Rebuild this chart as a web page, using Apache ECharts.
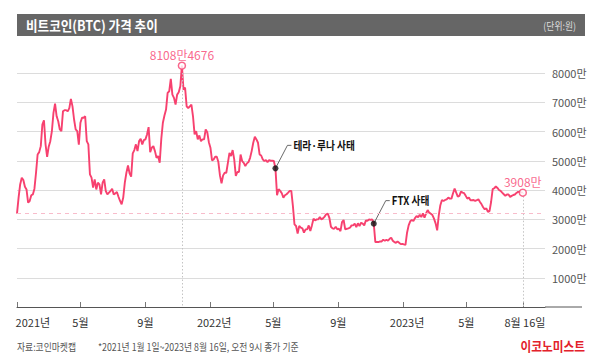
<!DOCTYPE html>
<html><head><meta charset="utf-8">
<script src="https://cdn.jsdelivr.net/npm/echarts@6/dist/echarts.min.js"></script>
<style>html,body{margin:0;padding:0;background:#fff}#c{width:600px;height:357px}</style>
</head><body><div id="c"></div>
<script>
// ---- data (prices in 만원, one reading every 3 days from 2021-01-01) ----
const startDate = '2021-01-01';
const stepDays = 3;
const prices = [
3190,3740,4190,4420,4340,4110,4020,3570,3625,3820,3850,4045,4590,5215,5295,5500,6240,6385,5560,5135,
5480,5670,6010,6635,6950,6520,6350,6070,6010,6690,6730,6730,6690,6800,7110,6860,6410,6070,6010,5550,
6300,6470,6470,6520,5670,5560,4535,4420,4080,4365,4020,4250,4190,3850,4250,4360,3965,3850,3910,3965,
4045,3850,3885,3930,3770,3625,3510,3740,4250,4590,4840,4570,4455,5250,5365,5560,5330,5670,5750,5560,
5705,5730,5900,6150,5295,5445,5500,5330,5100,5160,4930,5750,6300,6545,6750,7320,7375,7800,7260,7150,
6920,7260,7340,7545,8250,7430,7500,6860,6800,6860,6920,6520,5900,6010,5730,5865,5670,5730,5730,6070,
5975,5635,5445,5010,5045,5135,5135,4955,4500,4225,4500,4590,4590,4930,5270,5160,5365,5045,4480,4615,
4615,5215,4990,4930,4820,4910,4955,5100,5330,5615,5820,5730,5615,5215,5180,5045,4990,5020,4955,5020,
5000,5000,4990,4740,3820,4030,3970,3890,3740,3820,3855,3910,3970,3970,3455,2825,2770,2515,2770,2710,
2690,2540,2655,2655,2790,2595,2790,3020,2960,2995,2995,3075,2995,3030,3090,3170,3190,3050,2745,2690,
2675,2745,2655,2675,2595,2905,2975,2655,2675,2690,2710,2790,2790,2850,2730,2860,2770,2880,2850,2790,
2960,2950,2995,2975,3000,2850,2220,2220,2220,2240,2240,2300,2265,2300,2265,2330,2370,2265,2220,2195,
2240,2195,2150,2160,2140,2125,2540,2790,2930,2975,2940,3040,3110,3065,3155,3075,3200,3050,3200,3315,
3225,3190,3145,3020,2860,2620,3130,3480,3660,3625,3660,3680,3740,3705,3705,3890,4050,3910,3775,3800,
3945,3910,3890,3800,3705,3740,3650,3650,3660,3625,3650,3680,3590,3510,3410,3340,3375,3250,3280,3590,
4030,4060,4120,4070,4000,3970,3910,3855,3800,3845,3845,3765,3800,3830,3845,3900,3935,3935,3920,3908
];
const tickDates = ['2021-01-01','2021-05-01','2021-09-01','2022-01-01','2022-05-01','2022-09-01','2023-01-01','2023-05-01','2023-08-16'];
const tickLabels = ['2021년','5월','9월','2022년','5월','9월','2023년','5월','8월 16일'];
const yTicks = [1000,2000,3000,4000,5000,6000,7000,8000];
const peakIndex = 104, peakLabel = '8108만4676';
const lastIndex = 319, lastLabel = '3908만';
const eventIndices = [163, 225];
const eventLabels = ['테라·루나 사태', 'FTX 사태'];
const titleText = '비트코인(BTC) 가격 추이';
const unitText = '(단위:원)';
const sourceText = '자료:코인마켓캡';
const noteText = '*2021년 1월 1일~2023년 8월 16일, 오전 9시 종가 기준';
const brandText = '이코노미스트';

// ---- build (x = days since startDate) ----
const DAY = 86400000;
const parseD = s => { const p = s.split('-').map(Number); return Date.UTC(p[0], p[1]-1, p[2]); };
const t0 = parseD(startDate);
const dAt = i => i * stepDays;
const lineData = prices.map((v, i) => [dAt(i), v]);
const tickDays = tickDates.map(s => Math.round((parseD(s) - t0) / DAY));
const labelShift = tickLabels.map((s, k) => k === 0 ? 30 : (s.indexOf('년') > 0 ? 8 : (k === tickLabels.length - 1 ? 4 : 0)));
const labelDays = tickDays.map((d, k) => d + labelShift[k]);
const Y_MAX = 8000;

const PINK = '#f7416f';
const FONT = "'Liberation Sans Narrow','Noto Sans CJK KR',sans-serif";
const KFONT = "'Noto Sans CJK KR',sans-serif";

const chart = echarts.init(document.getElementById('c'), null, {renderer: 'svg'});
const peakPt = [dAt(peakIndex), prices[peakIndex]];
const lastPt = [dAt(lastIndex), prices[lastIndex]];

chart.setOption({
  animation: false,
  textStyle: {fontFamily: FONT},
  grid: {left: 17, right: 55, top: 73, bottom: 50},
  xAxis: {
    type: 'value', min: 0, max: 999,
    axisLine: {show: true, onZero: false, lineStyle: {color: '#555', width: 1}},
    axisTick: {show: true, inside: true, length: 5, lineStyle: {color: '#777'}, customValues: tickDays},
    axisLabel: {
      show: true, customValues: labelDays, margin: 9, color: '#333', fontSize: 11, fontFamily: FONT,
      formatter: function (v) {
        let best = 0, bd = Infinity;
        labelDays.forEach((t, k) => { const d = Math.abs(t - v); if (d < bd) { bd = d; best = k; } });
        return tickLabels[best];
      }
    },
    splitLine: {show: false}
  },
  yAxis: {
    type: 'value', position: 'right', min: 0, max: Y_MAX, interval: 1000,
    axisLine: {show: false}, axisTick: {show: false},
    axisLabel: {margin: 7, color: '#555', fontSize: 11, fontFamily: FONT,
      formatter: v => (yTicks.indexOf(v) >= 0 ? v + '만' : '')},
    splitLine: {lineStyle: {color: '#dcdcdc', width: 1}}
  },
  series: [
    {
      type: 'line', data: lineData, showSymbol: false, clip: false, z: 3,
      lineStyle: {color: PINK, width: 1.9}, itemStyle: {color: PINK},
      markLine: {
        silent: true, symbol: ['none', 'none'], label: {show: false},
        data: [
          [{coord: [peakPt[0], Math.min(peakPt[1], Y_MAX)], lineStyle: {color: '#c4c4c4', type: [1.5, 2], width: 1}}, {coord: [peakPt[0], 0]}],
          [{coord: lastPt, lineStyle: {color: '#c4c4c4', type: [1.5, 2], width: 1}}, {coord: [lastPt[0], 0]}],
          {yAxis: prices[0], lineStyle: {color: '#f8bccb', type: [4, 4], width: 1}}
        ]
      }
    },
    {
      type: 'scatter', z: 5, symbol: 'circle', symbolSize: 7, clip: false,
      itemStyle: {color: '#fff', borderColor: PINK, borderWidth: 1.5},
      label: {show: true, position: 'top', distance: 1, color: PINK, fontSize: 12, fontFamily: FONT,
        formatter: p => p.data.name},
      data: [{value: peakPt, name: peakLabel}, {value: lastPt, name: lastLabel}]
    },
    {
      type: 'scatter', z: 6, symbol: 'circle', symbolSize: 6, clip: false, itemStyle: {color: '#111'},
      data: eventIndices.map(i => [dAt(i), prices[i]])
    }
  ]
});

// decorations & annotations
const g = [];
g.push({type: 'rect', shape: {x: 17, y: 14, width: 568, height: 22}, style: {fill: '#666'}, silent: true});
g.push({type: 'text', x: 26, y: 25.5, scaleX: 0.9, style: {text: titleText, fill: '#fff', font: "bold 14px " + KFONT, verticalAlign: 'middle'}});
g.push({type: 'text', x: 576, y: 25.5, scaleX: 0.88, style: {text: unitText, fill: '#ddd', font: "10px " + KFONT, align: 'right', verticalAlign: 'middle'}});
const bl = chart.convertToPixel({gridIndex: 0}, [999, 0]);
g.push({type: 'line', shape: {x1: bl[0], y1: bl[1], x2: 582, y2: bl[1]}, style: {stroke: '#555', lineWidth: 1}});
// dotted segment from the peak marker down to the top grid line
const pk = chart.convertToPixel({gridIndex: 0}, peakPt);
const pkTop = chart.convertToPixel({gridIndex: 0}, [peakPt[0], Y_MAX]);
if (pk[1] < pkTop[1]) g.push({type: 'line', z: 1, shape: {x1: pk[0], y1: pk[1], x2: pk[0], y2: pkTop[1]}, style: {stroke: '#c4c4c4', lineWidth: 1, lineDash: [1.5, 2]}});
eventIndices.forEach((idx, k) => {
  const p = chart.convertToPixel({gridIndex: 0}, [dAt(idx), prices[idx]]);
  g.push({type: 'polyline', z: 4, shape: {points: [[p[0], p[1]], [p[0] + 12, p[1] - 23], [p[0] + 16, p[1] - 23]]}, style: {stroke: '#444', lineWidth: 0.8, fill: null}});
  g.push({type: 'text', z: 4, x: p[0] + 18, y: p[1] - 23, scaleX: 0.88, style: {text: eventLabels[k], fill: '#111', font: "bold 11px " + KFONT, verticalAlign: 'middle'}});
});
g.push({type: 'text', x: 17, y: 347, scaleX: 0.88, style: {text: sourceText, fill: '#555', font: "10px " + KFONT, verticalAlign: 'middle'}});
g.push({type: 'text', x: 98, y: 347, scaleX: 0.88, style: {text: noteText, fill: '#555', font: "10px " + KFONT, verticalAlign: 'middle'}});
g.push({type: 'text', x: 585, y: 346, scaleX: 0.9, style: {text: brandText, fill: '#e3212b', font: "bold 13px " + KFONT, align: 'right', verticalAlign: 'middle'}});
chart.setOption({graphic: g});
</script>
</body></html>
